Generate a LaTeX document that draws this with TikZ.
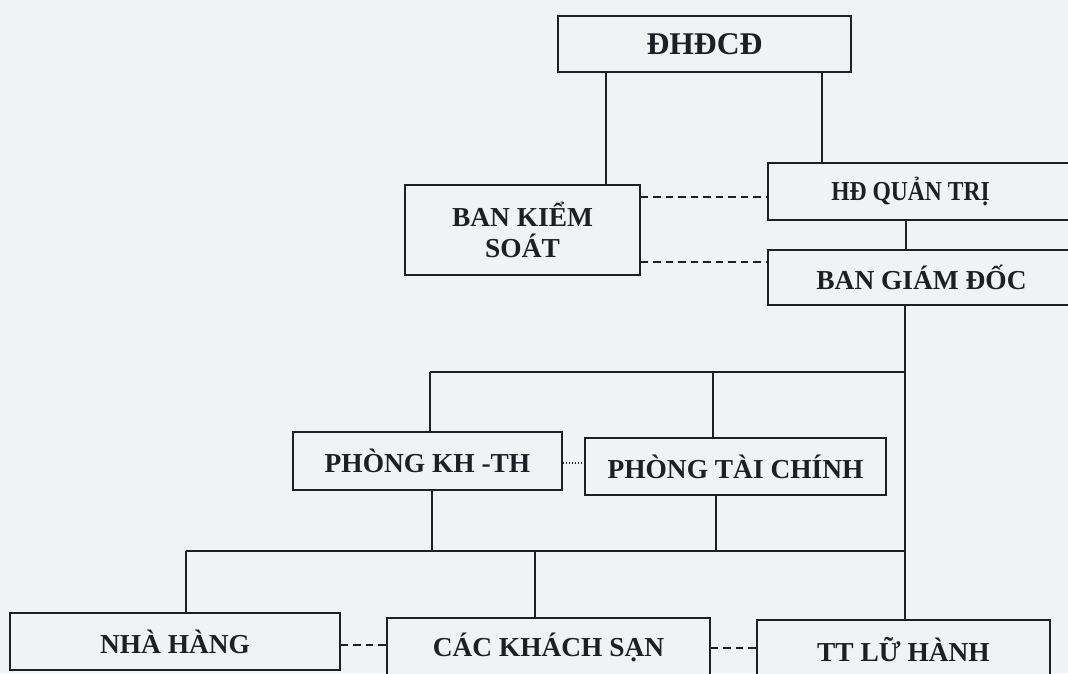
\documentclass[tikz,border=0pt]{standalone}
\usepackage{fontspec}
\setmainfont{Liberation Serif}
\definecolor{paper}{HTML}{F1F2F4}
\definecolor{ink}{HTML}{1C2024}
\begin{document}
\begin{tikzpicture}[x=0.02cm, y=-0.02cm,
    unit/.style={draw=ink, line width=1pt, fill=paper, text=ink,
      font=\fontsize{15.6}{17.6}\selectfont\bfseries, align=center,
      inner sep=0pt},
    link/.style={draw=ink, line width=1pt},
    tie/.style={link, dash pattern=on 0.15cm off 0.1cm},
    peer/.style={link, dash pattern=on 0.02cm off 0.04cm}]
    \fill[paper] (0,0) rectangle (1068,673);
    \useasboundingbox (0,0) rectangle (1068,673);
    \clip (0,0) rectangle (1068,673);

    \begin{scope}[every node/.style={unit}]
      \node [minimum width=5.86cm, minimum height=1.12cm,
        font=\fontsize{18}{20}\selectfont\bfseries] (dhdcd) at (704.5,44) {ĐHĐCĐ};
      \node [minimum width=4.7cm, minimum height=1.8cm] (bks) at (522.5,230) {BAN KIỂM\\SOÁT};
      \node [minimum width=6.14cm, minimum height=1.14cm] (hdqt) at (921.5,191.5)
        {\scalebox{0.86}[1]{HĐ QUẢN TRỊ}\hspace*{0.44cm}};
      \node [minimum width=6.14cm, minimum height=1.1cm] (bgd) at (921.5,277.5) {BAN GIÁM ĐỐC};
      \node [minimum width=5.38cm, minimum height=1.16cm] (pkh) at (427.5,461) {PHÒNG KH -TH};
      \node [minimum width=6.02cm, minimum height=1.14cm] (ptc) at (735.5,466.5) {PHÒNG TÀI CHÍNH};
      \node [minimum width=6.6cm, minimum height=1.14cm] (nh) at (175,641.5) {NHÀ HÀNG};
      \node [minimum width=6.46cm, minimum height=1.16cm] (cks) at (548.5,647) {CÁC KHÁCH SẠN};
      \node [minimum width=5.86cm, minimum height=1.16cm] (tt) at (903.5,649) {TT LỮ HÀNH};
    \end{scope}

    % bus lines
    \coordinate (busA) at (905,372);
    \coordinate (busB) at (905,551);

    \begin{scope}[link]
      \draw (606,0 |- dhdcd.south) -- (606,0 |- bks.north);
      \draw (822,0 |- dhdcd.south) -- (822,0 |- hdqt.north);
      \draw (906,0 |- hdqt.south) -- (906,0 |- bgd.north);
      \draw (905,0 |- bgd.south) -- (905,0 |- tt.north);

      \draw (430,0 |- busA) -- (busA);
      \draw (430,0 |- busA) -- (430,0 |- pkh.north);
      \draw (713,0 |- busA) -- (713,0 |- ptc.north);

      \draw (432,0 |- pkh.south) -- (432,0 |- busB);
      \draw (716,0 |- ptc.south) -- (716,0 |- busB);
      \draw (186,0 |- busB) -- (busB);
      \draw (186,0 |- busB) -- (186,0 |- nh.north);
      \draw (535,0 |- busB) -- (535,0 |- cks.north);
    \end{scope}

    \draw [tie] (bks.east |- 0,197) -- (hdqt.west |- 0,197);
    \draw [tie] (bks.east |- 0,262) -- (bgd.west |- 0,262);
    \draw [peer] (pkh.east |- 0,463) -- (ptc.west |- 0,463);
    \draw [tie] (nh.east |- 0,645) -- (cks.west |- 0,645);
    \draw [tie] (cks.east |- 0,648) -- (tt.west |- 0,648);
  \end{tikzpicture}
\end{document}
